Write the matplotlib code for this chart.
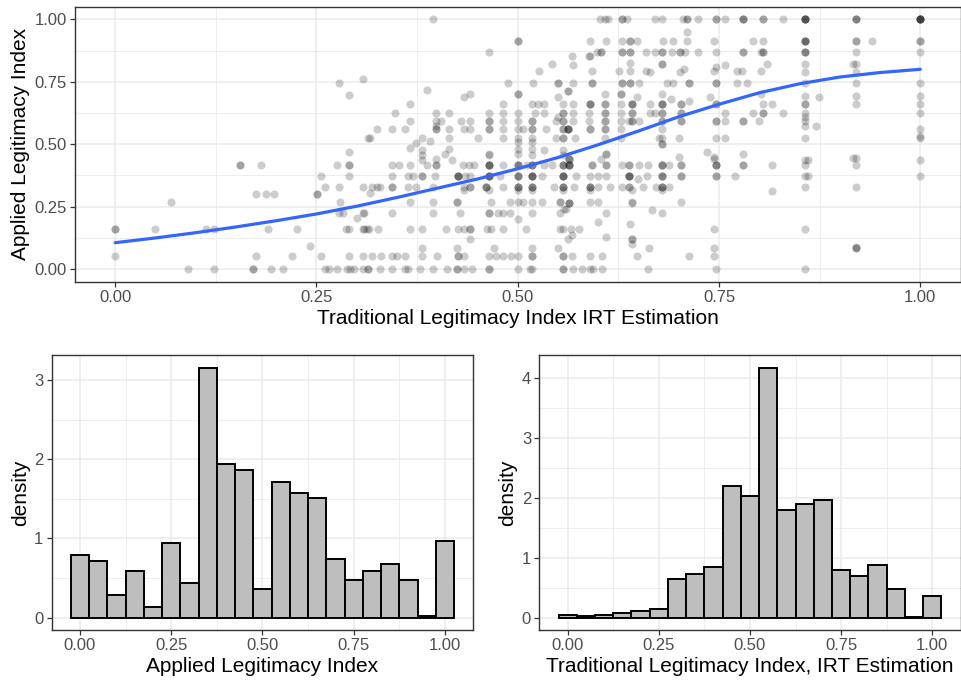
import numpy as np
import matplotlib
matplotlib.use("Agg")
import matplotlib.pyplot as plt
from matplotlib.ticker import MultipleLocator

plt.rcParams['font.family'] = ['Liberation Sans', 'DejaVu Sans']

# ---- scatter data: points on common y levels (x values), plus loose points ----
rows = [
    (1.0, [0.395, 0.602, 0.609, 0.612, 0.629, 0.629, 0.636, 0.671, 0.679, 0.705, 0.71, 0.71, 0.724,
           0.746, 0.746, 0.757, 0.78, 0.78, 0.78, 0.805, 0.805, 0.829, 0.857, 0.857, 0.857, 0.857,
           0.857, 0.92, 0.92, 0.92, 1.0, 1.0, 1.0, 1.0, 1.0, 1.0]),
    (0.912, [0.50, 0.50, 0.59, 0.61, 0.629, 0.64, 0.64, 0.648, 0.68, 0.693, 0.71, 0.744, 0.792,
             0.805, 0.857, 0.857, 0.857, 0.857, 0.92, 0.92, 0.94, 1.0, 1.0]),
    (0.87, [0.464, 0.598, 0.603, 0.603, 0.629, 0.629, 0.64, 0.64, 0.659, 0.671, 0.679, 0.679, 0.692,
            0.702, 0.702, 0.708, 0.724, 0.746, 0.78, 0.78, 0.802, 0.805, 0.805, 0.857, 0.857, 0.857,
            0.92, 1.0]),
    (0.744, [0.278, 0.488, 0.519, 0.55, 0.55, 0.569, 0.592, 0.592, 0.629, 0.629, 0.64, 0.64, 0.651,
             0.686, 0.693, 0.713, 0.713, 0.746, 0.746, 0.772, 0.785, 0.857, 0.92, 1.0]),
    (0.661, [0.482, 0.518, 0.525, 0.532, 0.556, 0.569, 0.59, 0.59, 0.59, 0.609, 0.609, 0.628, 0.642,
             0.642, 0.642, 0.664, 0.679, 0.679, 0.679, 0.703, 0.703, 0.746, 0.746, 0.805, 0.816,
             0.857, 0.857, 0.92, 1.0]),
    (0.625, [0.347, 0.399, 0.415, 0.464, 0.482, 0.50, 0.522, 0.532, 0.556, 0.556, 0.569, 0.588, 0.609,
             0.609, 0.628, 0.642, 0.642, 0.664, 0.67, 0.679, 0.679, 0.703, 0.703, 0.757, 0.792, 0.805,
             0.805, 0.829, 0.857, 1.0]),
    (0.595, [0.366, 0.399, 0.405, 0.43, 0.441, 0.464, 0.464, 0.482, 0.50, 0.518, 0.518, 0.548, 0.556,
             0.556, 0.569, 0.588, 0.609, 0.609, 0.628, 0.638, 0.642, 0.642, 0.651, 0.679, 0.679,
             0.703, 0.703, 0.746, 0.746, 0.757, 0.78, 0.78, 0.80, 0.857]),
    (0.56, [0.325, 0.344, 0.36, 0.399, 0.399, 0.415, 0.433, 0.441, 0.464, 0.464, 0.482, 0.50, 0.507,
            0.518, 0.518, 0.535, 0.556, 0.556, 0.563, 0.563, 0.563, 0.563, 0.59, 0.59, 0.609, 0.609,
            0.628, 0.679, 1.0]),
    (0.526, [0.314, 0.316, 0.381, 0.415, 0.451, 0.482, 0.50, 0.518, 0.548, 0.556, 0.556, 0.571, 0.609,
             0.628, 0.675, 0.679, 0.70, 0.746, 0.757, 0.857, 1.0]),
    (0.415, [0.155, 0.155, 0.181, 0.276, 0.291, 0.291, 0.344, 0.353, 0.366, 0.387, 0.399, 0.399, 0.432,
             0.439, 0.446, 0.464, 0.464, 0.464, 0.464, 0.482, 0.50, 0.50, 0.50, 0.512, 0.518, 0.518,
             0.518, 0.532, 0.542, 0.556, 0.556, 0.556, 0.564, 0.564, 0.564, 0.564, 0.592, 0.592, 0.61,
             0.61, 0.629, 0.638, 0.638, 0.651, 0.662, 0.679, 0.679, 0.679, 0.688, 0.703, 0.703, 0.746,
             0.746, 0.746, 0.78, 0.78, 0.816, 0.857, 0.92]),
    (0.372, [0.256, 0.291, 0.344, 0.364, 0.37, 0.381, 0.381, 0.397, 0.426, 0.426, 0.426, 0.426, 0.434,
             0.441, 0.464, 0.464, 0.464, 0.464, 0.478, 0.50, 0.50, 0.50, 0.518, 0.518, 0.518, 0.518,
             0.53, 0.556, 0.556, 0.556, 0.556, 0.572, 0.59, 0.60, 0.61, 0.638, 0.638, 0.638, 0.638,
             0.66, 0.679, 0.679, 0.679, 0.703, 0.703, 0.746, 0.746, 0.77, 0.857, 0.86, 1.0]),
    (0.33, [0.261, 0.278, 0.308, 0.319, 0.325, 0.329, 0.344, 0.344, 0.364, 0.374, 0.395, 0.433, 0.441,
            0.441, 0.46, 0.46, 0.46, 0.482, 0.50, 0.50, 0.50, 0.518, 0.518, 0.518, 0.545, 0.556, 0.556,
            0.556, 0.57, 0.59, 0.59, 0.59, 0.60, 0.615, 0.629, 0.638, 0.638, 0.655, 0.672, 0.679,
            0.679, 0.679, 0.688, 0.857, 0.92]),
    (0.27, [0.069, 0.279, 0.366, 0.395, 0.424, 0.424, 0.467, 0.49, 0.50, 0.507, 0.518, 0.53, 0.553,
            0.553, 0.59, 0.60, 0.642, 0.703]),
    (0.225, [0.278, 0.283, 0.308, 0.309, 0.344, 0.395, 0.428, 0.464, 0.464, 0.475, 0.482, 0.49, 0.518,
             0.553, 0.61, 0.679]),
    (0.16, [0.0, 0.0, 0.05, 0.113, 0.123, 0.19, 0.226, 0.287, 0.291, 0.308, 0.309, 0.313, 0.315, 0.327,
            0.366, 0.381, 0.411, 0.426, 0.433, 0.441, 0.441, 0.462, 0.467, 0.482, 0.51, 0.553, 0.556,
            0.566, 0.576, 0.744, 0.857]),
    (0.053, [0.0, 0.175, 0.219, 0.256, 0.291, 0.308, 0.319, 0.33, 0.344, 0.35, 0.36, 0.381, 0.40, 0.426,
             0.426, 0.433, 0.464, 0.473, 0.482, 0.492, 0.50, 0.518, 0.518, 0.556, 0.556, 0.567, 0.59,
             0.605, 0.648, 0.713, 0.744]),
    (0.0, [0.09, 0.123, 0.171, 0.171, 0.193, 0.209, 0.261, 0.265, 0.276, 0.288, 0.292, 0.296, 0.308,
           0.314, 0.314, 0.329, 0.344, 0.36, 0.364, 0.379, 0.395, 0.412, 0.424, 0.424, 0.433, 0.443,
           0.464, 0.464, 0.50, 0.515, 0.518, 0.556, 0.556, 0.569, 0.58, 0.59, 0.593, 0.605, 0.662,
           0.746, 0.857]),
]

loose = [(0.71, 0.95), (0.567, 0.853), (0.588, 0.853), (0.59, 0.853),
         (0.543, 0.82), (0.569, 0.818), (0.527, 0.793), (0.592, 0.795), (0.626, 0.795), (0.64, 0.795),
         (0.64, 0.827), (0.659, 0.795), (0.664, 0.79), (0.679, 0.82), (0.679, 0.82), (0.702, 0.79),
         (0.706, 0.80), (0.744, 0.795), (0.746, 0.81), (0.757, 0.818), (0.772, 0.794), (0.778, 0.794),
         (0.802, 0.794), (0.81, 0.82), (0.857, 0.82), (0.857, 0.79), (0.916, 0.82), (0.92, 0.82),
         (0.92, 0.79), (0.308, 0.763),
         (0.291, 0.697), (0.387, 0.716), (0.433, 0.69), (0.441, 0.70), (0.366, 0.661), (0.50, 0.70),
         (0.50, 0.70), (0.563, 0.714), (0.563, 0.714), (0.55, 0.69), (0.609, 0.70), (0.628, 0.70),
         (0.628, 0.70), (0.648, 0.69), (0.679, 0.70), (0.69, 0.68), (0.713, 0.675), (0.739, 0.69),
         (0.802, 0.70), (0.857, 0.692), (0.874, 0.688), (0.92, 0.692), (1.0, 0.692),
         (0.55, 0.61), (0.857, 0.608), (0.399, 0.575), (0.857, 0.575), (0.87, 0.575),
         (0.391, 0.515), (0.374, 0.506), (0.50, 0.51), (0.518, 0.51), (0.679, 0.502), (0.679, 0.502),
         (1.0, 0.535),
         (0.291, 0.47), (0.366, 0.486), (0.381, 0.475), (0.381, 0.455), (0.381, 0.438), (0.399, 0.442),
         (0.41, 0.459), (0.415, 0.482), (0.418, 0.435), (0.464, 0.46), (0.464, 0.455), (0.50, 0.48),
         (0.50, 0.46), (0.518, 0.48), (0.518, 0.455), (0.532, 0.475), (0.556, 0.475), (0.556, 0.455),
         (0.564, 0.442), (0.564, 0.442), (0.564, 0.442), (0.604, 0.44), (0.61, 0.46), (0.61, 0.46),
         (0.70, 0.45), (0.735, 0.47), (0.744, 0.45), (0.744, 0.44), (0.78, 0.46), (0.857, 0.438),
         (0.86, 0.438), (0.916, 0.445), (0.92, 0.445), (1.0, 0.438), (0.65, 0.36),
         (0.433, 0.318), (0.464, 0.318), (0.50, 0.318), (0.518, 0.315), (0.556, 0.318), (0.59, 0.315),
         (0.642, 0.318), (0.679, 0.318),
         (0.175, 0.30), (0.187, 0.30), (0.197, 0.30), (0.251, 0.30), (0.251, 0.30), (0.316, 0.305),
         (0.816, 0.313), (0.564, 0.263), (0.564, 0.263), (0.564, 0.263), (0.642, 0.263), (0.557, 0.24),
         (0.56, 0.24), (0.30, 0.203), (0.50, 0.20), (0.60, 0.19), (0.667, 0.236), (0.639, 0.18),
         (0.242, 0.092), (0.441, 0.12), (0.381, 0.084), (0.424, 0.084), (0.568, 0.137), (0.562, 0.12),
         (0.61, 0.13), (0.55, 0.085), (0.47, 0.085), (0.518, 0.085), (0.642, 0.12), (0.642, 0.12),
         (0.642, 0.10), (0.663, 0.085), (0.744, 0.085), (0.92, 0.09), (0.92, 0.083), (0.92, 0.083)]

# smoothed trend line
curve_x = [0, 0.05, 0.1, 0.15, 0.2, 0.25, 0.3, 0.35, 0.4, 0.45, 0.5, 0.55, 0.6, 0.65, 0.7, 0.75,
           0.8, 0.85, 0.9, 0.95, 1.0]
curve_y = [0.106, 0.125, 0.146, 0.169, 0.194, 0.221, 0.252, 0.287, 0.324, 0.361, 0.402, 0.447,
           0.498, 0.553, 0.61, 0.66, 0.706, 0.742, 0.769, 0.787, 0.80]

# ---- histogram densities (bin width 0.05, centres 0..1) ----
bin_centres = [i * 0.05 for i in range(21)]
applied_dens = [0.79, 0.71, 0.28, 0.59, 0.13, 0.94, 0.44, 3.16, 1.94, 1.86, 0.36, 1.71, 1.58, 1.51,
                0.74, 0.48, 0.59, 0.67, 0.47, 0.02, 0.97]
trad_dens = [0.04, 0.02, 0.05, 0.08, 0.11, 0.15, 0.64, 0.72, 0.84, 2.20, 2.02, 4.17, 1.79, 1.89,
             1.96, 0.79, 0.69, 0.87, 0.47, 0.01, 0.36]

px = [x for y, xs in rows for x in xs] + [p[0] for p in loose]
py = [y for y, xs in rows for x in xs] + [p[1] for p in loose]

GRID = '#EBEBEB'
TXT = '#4D4D4D'
EDGE = '#333333'
TITLE_SIZE = 15
TICK_SIZE = 12


def style(ax, xmaj, ymaj):
    ax.set_facecolor('white')
    ax.xaxis.set_major_locator(MultipleLocator(xmaj))
    ax.xaxis.set_minor_locator(MultipleLocator(xmaj / 2))
    ax.yaxis.set_major_locator(MultipleLocator(ymaj))
    ax.yaxis.set_minor_locator(MultipleLocator(ymaj / 2))
    ax.grid(which='major', color=GRID, lw=1.1, zorder=0)
    ax.grid(which='minor', color=GRID, lw=0.6, zorder=0)
    ax.set_axisbelow(True)
    for s in ax.spines.values():
        s.set_color(EDGE)
        s.set_linewidth(1.0)
    ax.tick_params(which='major', length=3.5, width=0.9, color=EDGE, labelcolor=TXT,
                   labelsize=TICK_SIZE, pad=2.5)
    ax.tick_params(which='minor', length=0)


fig = plt.figure(figsize=(9.61, 6.83), dpi=100)

# top scatter
ax = fig.add_axes([0.078, 0.5876, 0.9215, 0.4024])
style(ax, 0.25, 0.25)
ax.scatter(px, py, s=34, color='black', alpha=0.2, linewidths=0, zorder=2)
ax.plot(curve_x, curve_y, color='#3366FF', lw=2.3, zorder=3, solid_capstyle='round')
ax.set_xlim(-0.05, 1.05)
ax.set_ylim(-0.05, 1.05)
ax.set_xticks([0, 0.25, 0.5, 0.75, 1.0])
ax.set_xticklabels(['0.00', '0.25', '0.50', '0.75', '1.00'])
ax.set_yticks([0, 0.25, 0.5, 0.75, 1.0])
ax.set_yticklabels(['0.00', '0.25', '0.50', '0.75', '1.00'])
ax.set_xlabel('Traditional Legitimacy Index IRT Estimation', fontsize=TITLE_SIZE, labelpad=3)
ax.set_ylabel('Applied Legitimacy Index', fontsize=TITLE_SIZE, labelpad=3)

# bottom-left histogram
ax2 = fig.add_axes([0.0538, 0.0776, 0.4387, 0.4026])
style(ax2, 0.25, 1)
ax2.bar(bin_centres, applied_dens, width=0.05, color='#BEBEBE', edgecolor='black', linewidth=1.4, zorder=2)
ax2.set_xlim(-0.0775, 1.0775)
ax2.set_ylim(-0.158, 3.318)
ax2.set_xticks([0, 0.25, 0.5, 0.75, 1.0])
ax2.set_xticklabels(['0.00', '0.25', '0.50', '0.75', '1.00'])
ax2.set_xlabel('Applied Legitimacy Index', fontsize=TITLE_SIZE, labelpad=3)
ax2.set_ylabel('density', fontsize=TITLE_SIZE, labelpad=3)

# bottom-right histogram
ax3 = fig.add_axes([0.5613, 0.0776, 0.4382, 0.4026])
style(ax3, 0.25, 1)
ax3.bar(bin_centres, trad_dens, width=0.05, color='#BEBEBE', edgecolor='black', linewidth=1.4, zorder=2)
ax3.set_xlim(-0.0775, 1.0775)
ax3.set_ylim(-0.2085, 4.3785)
ax3.set_xticks([0, 0.25, 0.5, 0.75, 1.0])
ax3.set_xticklabels(['0.00', '0.25', '0.50', '0.75', '1.00'])
ax3.set_xlabel('Traditional Legitimacy Index, IRT Estimation', fontsize=TITLE_SIZE, labelpad=3)
ax3.set_ylabel('density', fontsize=TITLE_SIZE, labelpad=3)

fig.savefig('out.png', dpi=100)
